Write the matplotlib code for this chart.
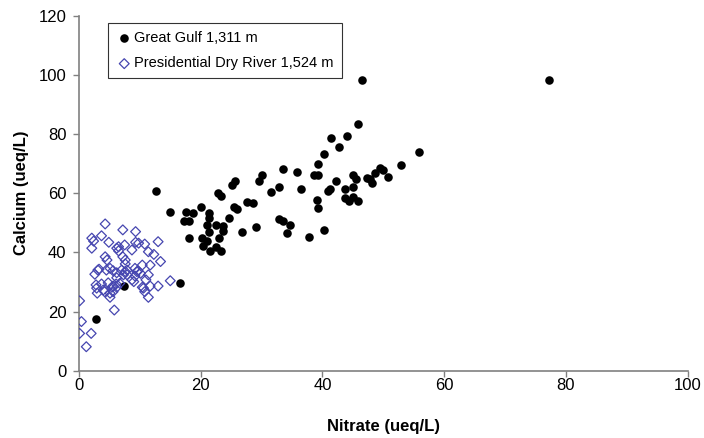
import matplotlib
matplotlib.use('Agg')
import matplotlib.pyplot as plt

plt.rcParams['font.family'] = ['Liberation Sans', 'DejaVu Sans']

# ── Datos: Great Gulf 1,311 m (nitrato, calcio) ────────────────────────
gg_nitrate = [2.8, 7.4, 16.6, 12.6, 14.9, 17.6, 18.8, 20.0, 21.3, 21.4,
              17.3, 18.1, 21.0, 22.5, 23.6, 23.6, 24.7, 21.3, 18.1, 20.2,
              21.0, 20.4, 21.5, 22.5, 23.4, 23.0, 22.9, 23.3, 25.1, 25.6,
              25.5, 26.0, 27.6, 26.8, 41.4, 44.1, 42.8, 40.2, 39.3, 38.6,
              39.3, 42.3, 41.2, 40.9, 43.7, 43.7, 44.3, 39.1, 39.3, 33.6,
              35.8, 30.0, 29.5, 32.9, 31.5, 36.5, 28.6, 32.9, 33.6, 34.7,
              34.1, 29.1, 37.8, 40.2, 46.5, 45.8, 55.8, 52.9, 49.5, 50.0,
              48.6, 50.8, 47.3, 47.8, 48.1, 45.0, 45.5, 45.0, 45.0, 45.8,
              77.2]
gg_calcium = [17.6, 28.6, 29.5, 60.9, 53.8, 53.8, 53.2, 55.2, 53.4, 51.7,
              50.6, 50.6, 49.3, 49.3, 48.9, 47.2, 51.6, 47.0, 44.8, 44.8,
              43.9, 42.2, 40.6, 41.7, 40.4, 45.0, 60.0, 59.0, 62.8, 64.2,
              55.4, 54.6, 57.1, 46.8, 78.6, 79.3, 75.7, 73.2, 69.8, 66.2,
              66.2, 64.1, 61.3, 60.8, 61.3, 58.3, 57.5, 57.7, 54.9, 68.2,
              67.1, 66.2, 64.1, 62.2, 60.5, 61.4, 56.6, 51.2, 50.6, 49.2,
              46.7, 48.7, 45.3, 47.6, 98.3, 83.3, 74.0, 69.5, 68.4, 67.9,
              66.9, 65.6, 65.0, 64.7, 63.4, 66.2, 64.7, 62.2, 58.8, 57.4,
              98.3]

# ── Datos: Presidential Dry River 1,524 m ──────────────────────────────
pdr_nitrate = [4.3, 7.2, 9.3, 3.7, 2.1, 2.4, 2.1, 4.9, 7.5, 6.2,
               6.5, 9.3, 9.8, 10.8, 8.7, 13.0, 11.4, 12.3, 13.4, 7.2,
               7.6, 11.7, 10.4, 4.3, 4.6, 3.1, 2.6, 7.6, 7.9, 9.7,
               10.1, 11.4, 9.0, 2.8, 3.7, 5.6, 6.1, 10.4, 11.7, 13.0,
               3.0, 4.2, 5.1, 5.6, 5.1, 10.6, 10.8, 11.4, 5.8, 0.1,
               0.4, 0.1, 2.0, 1.2, 15.0, 3.3, 4.5, 5.1, 5.6, 7.6,
               7.9, 7.0, 7.3, 9.2, 9.5, 9.2, 8.7, 6.2, 6.2, 4.8,
               5.4, 4.0, 6.7, 6.2, 11.0, 2.9, 6.5]
pdr_calcium = [49.6, 47.6, 47.0, 45.6, 44.8, 43.8, 41.4, 43.4, 42.5, 41.4,
               40.5, 43.4, 43.1, 42.8, 40.8, 43.6, 40.2, 39.3, 36.9, 38.5,
               37.4, 35.7, 35.7, 38.5, 37.4, 34.0, 32.6, 33.5, 32.4, 33.7,
               32.9, 32.4, 30.1, 29.0, 29.3, 28.6, 29.3, 28.2, 28.6, 28.6,
               26.2, 26.7, 26.2, 26.7, 24.8, 27.9, 26.7, 24.8, 20.5, 23.6,
               16.6, 12.6, 12.6, 8.1, 30.4, 34.3, 34.0, 34.6, 33.8, 36.1,
               34.0, 34.0, 32.4, 34.6, 33.5, 32.0, 30.7, 33.1, 31.4, 29.7,
               28.2, 27.3, 29.5, 28.2, 30.7, 27.9, 41.9]

x_ticks = [0, 20, 40, 60, 80, 100]
y_ticks = [0, 20, 40, 60, 80, 100, 120]

# ── Gráfica ────────────────────────────────────────────────────────────
fig = plt.figure(figsize=(7.04, 4.38), dpi=100)
ax = fig.add_axes([0.1122, 0.1537, 0.8644, 0.8105])

ax.scatter(gg_nitrate, gg_calcium, s=38, marker='o', color='black',
           linewidths=0, label='Great Gulf 1,311 m', zorder=3)
ax.scatter(pdr_nitrate, pdr_calcium, s=25, marker='D', facecolors='none',
           edgecolors='#4646b0', linewidths=0.9,
           label='Presidential Dry River 1,524 m', zorder=4)

ax.set_xlim(0, 100)
ax.set_ylim(0, 120)
ax.set_xticks(x_ticks)
ax.set_yticks(y_ticks)
ax.tick_params(direction='out', length=4, width=1, color='#808080',
               labelsize=12)
ax.tick_params(axis='x', pad=1)
ax.tick_params(axis='y', pad=5)

for side in ['top', 'right']:
    ax.spines[side].set_visible(False)
for side in ['left', 'bottom']:
    ax.spines[side].set_color('#808080')
    ax.spines[side].set_linewidth(1.2)

ax.set_xlabel('Nitrate (ueq/L)', fontsize=12, fontweight='bold', labelpad=19)
ax.set_ylabel('Calcium (ueq/L)', fontsize=12, fontweight='bold', labelpad=7)

leg = ax.legend(loc='upper left', bbox_to_anchor=(0.048, 0.98), fontsize=10.5,
                frameon=True, fancybox=False, handletextpad=0.15,
                handlelength=1.1, borderpad=0.55, labelspacing=0.8,
                borderaxespad=0)
leg.get_frame().set_edgecolor('black')
leg.get_frame().set_linewidth(0.8)

plt.savefig('out.png', dpi=100)
plt.close()
